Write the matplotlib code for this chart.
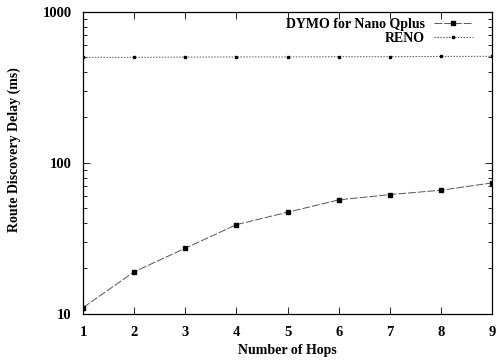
import matplotlib
matplotlib.use("Agg")
import matplotlib.pyplot as plt
from matplotlib.ticker import LogLocator, NullFormatter, FixedLocator

hops = [1, 2, 3, 4, 5, 6, 7, 8, 9]
dymo = [11.0, 19.0, 27.2, 39.0, 47.1, 56.9, 61.7, 65.9, 73.7]
reno = [500, 500, 502, 503, 503, 505, 505, 507, 508]
xticks = [1, 2, 3, 4, 5, 6, 7, 8, 9]
yticks = [10, 100, 1000]

plt.rcParams['font.family'] = ['Liberation Serif', 'DejaVu Serif']
plt.rcParams['font.weight'] = 'bold'

fig = plt.figure(figsize=(4.97, 3.6), dpi=100)
ax = fig.add_axes([0.167, 0.128, 0.823, 0.839])

ax.plot(hops, dymo, color='#555555', lw=0.7, ls=(0, (8, 2)), marker='s', ms=3,
        mfc='black', mec='black', label='DYMO for Nano Qplus')
ax.plot(hops, reno, color='#555555', lw=0.7, ls=(0, (1.5, 1.5)), marker='s', ms=2,
        mfc='black', mec='black', label='RENO')

ax.set_yscale('log')
ax.set_xlim(1, 9)
ax.set_ylim(10, 1000)
ax.set_xticks(xticks)
ax.set_xticklabels([str(x) for x in xticks], fontsize=10.5, fontweight='bold')
ax.yaxis.set_major_locator(FixedLocator(yticks))
ax.set_yticklabels([str(y) for y in yticks], fontsize=10.5, fontweight='bold')
ax.yaxis.set_minor_locator(LogLocator(base=10, subs=range(2, 10)))
ax.yaxis.set_minor_formatter(NullFormatter())
ax.tick_params(which='both', direction='in', top=True, right=True, width=0.6)
ax.tick_params(which='major', length=5)
ax.tick_params(axis='x', which='major', pad=9)
ax.tick_params(axis='y', which='major', pad=8)
ax.tick_params(which='minor', length=3)
for s in ax.spines.values():
    s.set_linewidth(0.9)

ax.set_xlabel('Number of Hops', fontsize=10, fontweight='bold', labelpad=3)
ax.set_ylabel('Route Discovery Delay (ms)', fontsize=10, fontweight='bold')
ax.yaxis.set_label_coords(-0.152, 0.543)

ax.legend(loc='upper right', bbox_to_anchor=(0.966, 0.999), frameon=False,
          markerfirst=False, handlelength=2.8, borderaxespad=0.0,
          labelspacing=0.1, handletextpad=0.65,
          prop={'weight': 'bold', 'size': 10})

fig.savefig('out.png', dpi=100)
